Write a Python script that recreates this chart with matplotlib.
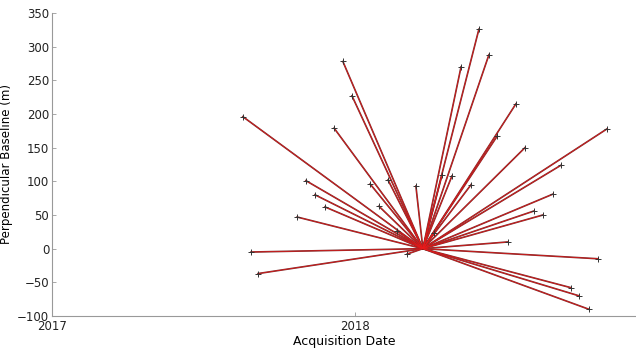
import matplotlib
matplotlib.use('Agg')
import matplotlib.pyplot as plt

# master acquisition (decimal year) and baseline
master_date = 2018.224
master_bperp = 0.0

# slave acquisitions: decimal year and perpendicular baseline (m)
slave_dates = [2017.960, 2017.990, 2017.931, 2017.630, 2017.838, 2017.868,
               2017.901, 2017.809, 2018.050, 2018.109, 2018.201, 2018.287,
               2018.320, 2018.383, 2018.079, 2018.139, 2018.261, 2018.172,
               2017.657, 2017.680, 2018.409, 2018.350, 2018.442, 2018.531,
               2018.469, 2018.832, 2018.561, 2018.680, 2018.653, 2018.591,
               2018.620, 2018.505, 2018.802, 2018.713, 2018.739, 2018.772]
slave_bperp = [278, 227, 179, 196, 101, 80,
               62, 47, 96, 102, 93, 109,
               108, 95, 63, 26, 23, -8,
               -5, -37, 326, 270, 288, 215,
               167, 178, 150, 124, 81, 56,
               50, 10, -15, -58, -70, -90]

year_ticks = [2017, 2018]

fig = plt.figure(figsize=(6.36, 3.49), dpi=100)
ax = fig.add_axes([52/636, 33/349, 584/636, 303/349])

# dark outline first, red core on top so the hub stays bright
for d, b in zip(slave_dates, slave_bperp):
    ax.plot([master_date, d], [master_bperp, b], color='#7a2a2a', lw=1.2,
            zorder=2)
for d, b in zip(slave_dates, slave_bperp):
    ax.plot([master_date, d], [master_bperp, b], color='#e8191a', lw=0.45,
            zorder=3)
ax.plot(slave_dates, slave_bperp, '+', color='#333333', ms=5, mew=0.7,
        zorder=4)

ax.set_xlim(2017, 2017 + 584/303)
ax.set_ylim(-100, 350)
ax.set_xticks(year_ticks)
ax.set_xticklabels([str(y) for y in year_ticks])
ax.set_yticks(range(-100, 351, 50))

for s in ['top', 'right']:
    ax.spines[s].set_visible(False)
for s in ['left', 'bottom']:
    ax.spines[s].set_color('#999999')
    ax.spines[s].set_linewidth(0.8)
ax.tick_params(direction='in', length=3, width=0.6, color='#999999',
               labelsize=8.5, labelcolor='#222222', pad=2)
ax.tick_params(axis='x', pad=3)

ax.set_xlabel('Acquisition Date', fontsize=9, labelpad=1)
ax.set_ylabel('Perpendicular Baseline (m)', fontsize=8.5)
ax.yaxis.set_label_coords(-0.066, 0.5)

fig.savefig('out.png', dpi=100)
